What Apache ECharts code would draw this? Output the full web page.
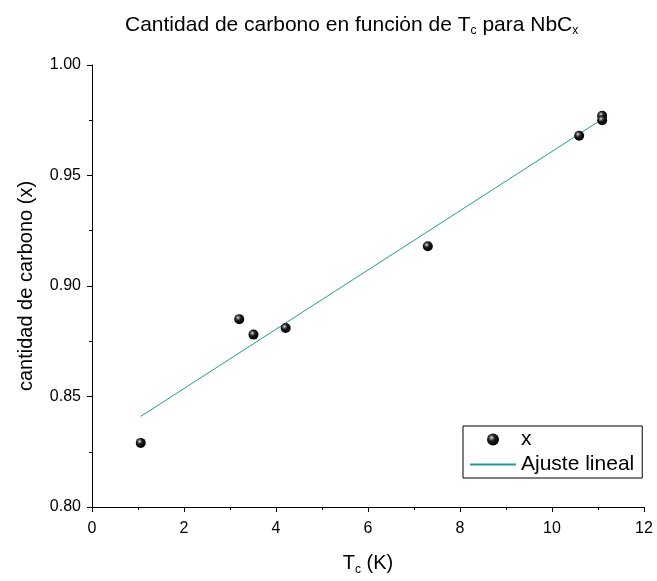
<!DOCTYPE html>
<html>
<head>
<meta charset="utf-8">
<script src="https://cdn.jsdelivr.net/npm/echarts@6/dist/echarts.min.js"></script>
<style>html,body{margin:0;padding:0;background:#fff;}#c{width:657px;height:581px;}</style>
</head>
<body>
<div id="c"></div>
<script>
// Data
const tcValues = [1.06, 3.20, 3.51, 4.21, 7.30, 10.59, 11.09, 11.09];
const xValues  = [0.829, 0.885, 0.878, 0.881, 0.918, 0.968, 0.977, 0.975];
const fitTc    = [1.06, 11.09];
const fitX     = [0.841, 0.9755];
const xTicks   = [0, 2, 4, 6, 8, 10, 12];
const yTicks   = [0.80, 0.85, 0.90, 0.95, 1.00];

const FONT = 'Liberation Sans, Arial, sans-serif';
const chart = echarts.init(document.getElementById('c'), null, {renderer: 'canvas'});

const sphere = {
  type: 'radial', x: 0.38, y: 0.35, r: 0.65,
  colorStops: [
    {offset: 0, color: '#f4f4f4'},
    {offset: 0.18, color: '#7a7a7a'},
    {offset: 0.45, color: '#1a1a1a'},
    {offset: 1, color: '#000000'}
  ]
};

const option = {
  backgroundColor: '#fff',
  animation: false,
  title: {
    text: 'Cantidad de carbono en funci\u022Fn de T{s|c} para NbC{s|x}',
    left: 120, top: 8,
    textStyle: {
      fontFamily: FONT, fontSize: 21, fontWeight: 'normal', color: '#000',
      rich: { s: {fontFamily: FONT, fontSize: 12, color: '#000', verticalAlign: 'bottom', padding: [12, 0, 0, 0]} }
    }
  },
  grid: {left: 92, right: 13, top: 65, bottom: 74, containLabel: false},
  legend: {
    orient: 'vertical', left: 463, top: 426,
    borderColor: '#000', borderWidth: 1, padding: [3, 8, 3, 6],
    itemWidth: 46, itemHeight: 12, itemGap: 4,
    textStyle: {fontFamily: FONT, fontSize: 21, color: '#000'},
    data: [
      {name: 'x', icon: 'circle'},
      {name: 'Ajuste lineal', itemStyle: {opacity: 0}}
    ]
  },
  xAxis: {
    type: 'value', min: 0, max: 12, interval: 2,
    name: 'T{s|c} (K)', nameLocation: 'middle', nameGap: 44,
    nameTextStyle: {fontFamily: FONT, fontSize: 20, color: '#000',
      rich: {s: {fontFamily: FONT, fontSize: 12, color: '#000', verticalAlign: 'bottom', padding: [13, 0, 0, 0]}}},
    axisLine: {show: true, lineStyle: {color: '#000', width: 1}},
    axisTick: {show: true, inside: false, length: 5, lineStyle: {color: '#000'}},
    minorTick: {show: true, splitNumber: 2, length: 3, lineStyle: {color: '#000'}},
    splitLine: {show: false},
    axisLabel: {fontFamily: FONT, fontSize: 16, color: '#000', margin: 14,
      formatter: v => xTicks.includes(v) ? String(v) : ''}
  },
  yAxis: {
    type: 'value', min: 0.80, max: 1.00, interval: 0.05,
    name: 'cantidad de carbono (x)', nameLocation: 'middle', nameGap: 56, nameRotate: 90,
    nameTextStyle: {fontFamily: FONT, fontSize: 20, color: '#000'},
    axisLine: {show: true, lineStyle: {color: '#000', width: 1}},
    axisTick: {show: true, inside: false, length: 5, lineStyle: {color: '#000'}},
    minorTick: {show: true, splitNumber: 2, length: 3, lineStyle: {color: '#000'}},
    splitLine: {show: false},
    axisLabel: {fontFamily: FONT, fontSize: 16, color: '#000', margin: 11,
      formatter: v => { const t = yTicks.find(y => Math.abs(y - v) < 1e-6); return t !== undefined ? t.toFixed(2) : ''; }}
  },
  series: [
    {
      name: 'x', type: 'scatter', symbol: 'circle', symbolSize: 10,
      itemStyle: {color: sphere, opacity: 1},
      data: tcValues.map((t, i) => [t, xValues[i]]),
      z: 3
    },
    {
      name: 'Ajuste lineal', type: 'line', symbol: 'none', showSymbol: false,
      lineStyle: {color: '#239a9a', width: 1},
      itemStyle: {color: '#239a9a'},
      data: fitTc.map((t, i) => [t, fitX[i]]),
      z: 2
    }
  ]
};
chart.setOption(option);
</script>
</body>
</html>
